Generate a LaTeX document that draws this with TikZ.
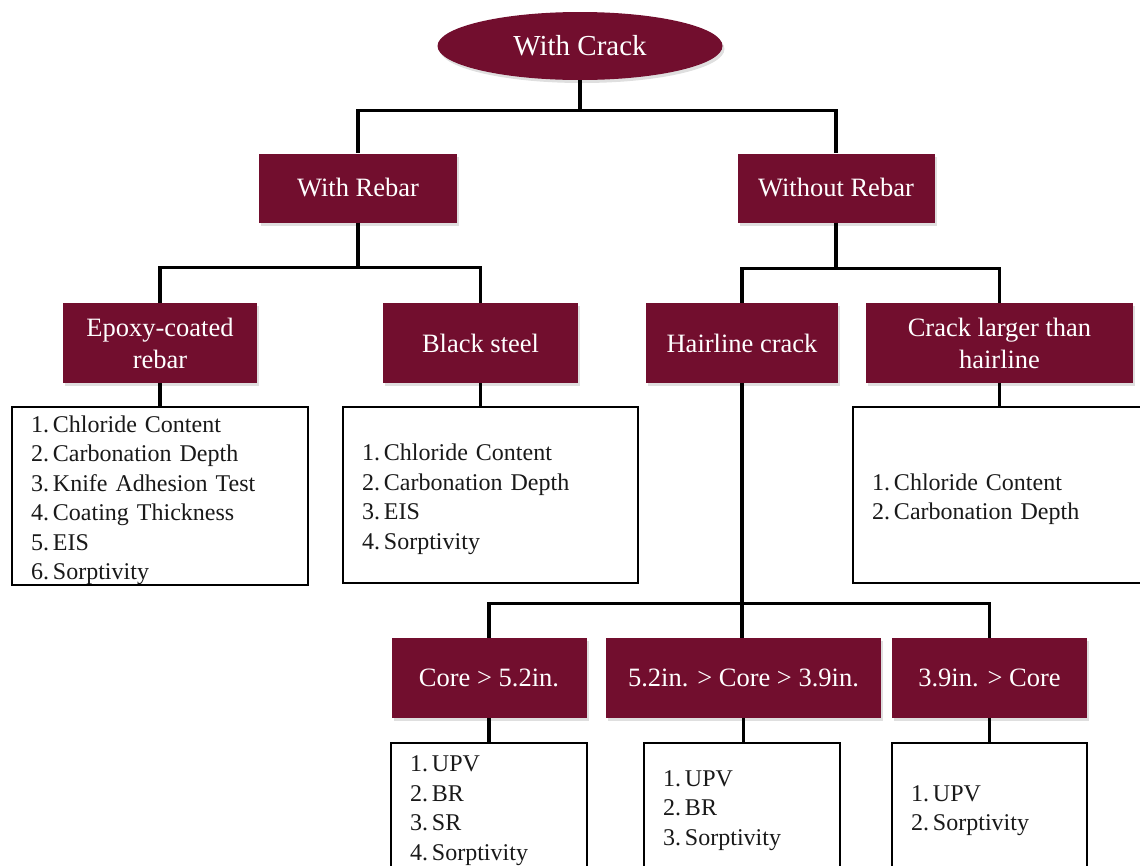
\documentclass[tikz,border=0pt]{standalone}
\usepackage{fontspec}
\setmainfont{Liberation Serif}
\usetikzlibrary{shapes.geometric,shadows}
\definecolor{wine}{RGB}{114,14,46}

\tikzset{
  head/.style={ellipse, fill=wine, text=white, inner sep=0pt,
    minimum width=285pt, minimum height=68pt,
    font=\fontsize{29}{34}\selectfont,
    drop shadow={shadow xshift=2pt, shadow yshift=-3pt, opacity=0.25}},
  box/.style={rectangle, fill=wine, text=white, inner sep=0pt, align=center,
    minimum height=80pt, font=\fontsize{26.5}{32}\selectfont,
    drop shadow={shadow xshift=2pt, shadow yshift=-3pt, opacity=0.25}},
  list/.style={draw, line width=2pt, fill=white, align=left,
    inner xsep=19pt, inner ysep=0pt, text=black!90,
    font=\fontsize{24}{29.5}\selectfont,
    execute at begin node={\rule{0pt}{25pt}}},
  link/.style={line width=3.2pt}
}

\begin{document}
\begin{tikzpicture}[x=1pt, y=-1pt]
\useasboundingbox (0,0) rectangle (1140,865);
\clip (0,0) rectangle (1140,865);

% tree of boxes
\node[head] (1) at (580,46) {With Crack};
\node[box, minimum width=198pt, minimum height=69pt] (2) at (358,188) {With Rebar};
\node[box, minimum width=197pt, minimum height=69pt] (3) at (836,188) {Without Rebar};
\node[box, minimum width=194pt] (4) at (160,343) {Epoxy-coated\\rebar};
\node[box, minimum width=195pt] (5) at (480.5,343) {Black steel};
\node[box, minimum width=192pt] (6) at (742,343) {Hairline crack};
\node[box, minimum width=267pt] (7) at (999.5,343) {Crack larger than\\hairline};
\node[box, minimum width=195pt] (8) at (489,678) {Core > 5.2in.};
\node[box, minimum width=275pt] (9) at (743.5,678) {5.2in. > Core > 3.9in.};
\node[box, minimum width=195pt] (10) at (989.5,678) {3.9in. > Core};

% test lists
\node[list, text width=258pt, minimum height=178pt] (11) at (160,496)
  {1.\,Chloride Content\\2.\,Carbonation Depth\\3.\,Knife Adhesion Test\\4.\,Coating Thickness\\5.\,EIS\\6.\,Sorptivity};
\node[list, text width=257pt, minimum height=176pt] (12) at (490.5,495)
  {1.\,Chloride Content\\2.\,Carbonation Depth\\3.\,EIS\\4.\,Sorptivity};
\node[list, text width=254pt, minimum height=176pt] (13) at (999,495)
  {1.\,Chloride Content\\2.\,Carbonation Depth};
\node[list, text width=158pt, minimum height=126pt] (14) at (489,806)
  {1.\,UPV\\2.\,BR\\3.\,SR\\4.\,Sorptivity};
\node[list, text width=158pt, minimum height=126pt] (15) at (742,806)
  {1.\,UPV\\2.\,BR\\3.\,Sorptivity};
\node[list, text width=157pt, minimum height=126pt] (16) at (989.5,806)
  {1.\,UPV\\2.\,Sorptivity};

% connectors
\path[draw,link] (1.south) -- ++(0,30) -| (2.north);
\path[draw,link] (1.south) -- ++(0,30) -| (3.north);
\path[draw,link] (2.south) -- ++(0,45) -| (4.north);
\path[draw,link] (2.south) -- ++(0,45) -| (5.north);
\path[draw,link] (3.south) -- ++(0,45.5) -| (6.north);
\path[draw,link] (3.south) -- ++(0,45.5) -| (7.north);
\path[draw,link] (4.south) -- (11.north);
\path[draw,link] (5.south) -- (5.south |- 12.north);
\path[draw,link] (7.south) -- (7.south |- 13.north);
\path[draw,link] (6.south) -- ++(0,220) -| (8.north);
\path[draw,link] (6.south) -- ++(0,220) -| (10.north);
\path[draw,link] (6.south) -- (6.south |- 9.north);
\path[draw,link] (8.south) -- (8.south |- 14.north);
\path[draw,link] (9.south) -- (9.south |- 15.north);
\path[draw,link] (10.south) -- (10.south |- 16.north);
\end{tikzpicture}
\end{document}
